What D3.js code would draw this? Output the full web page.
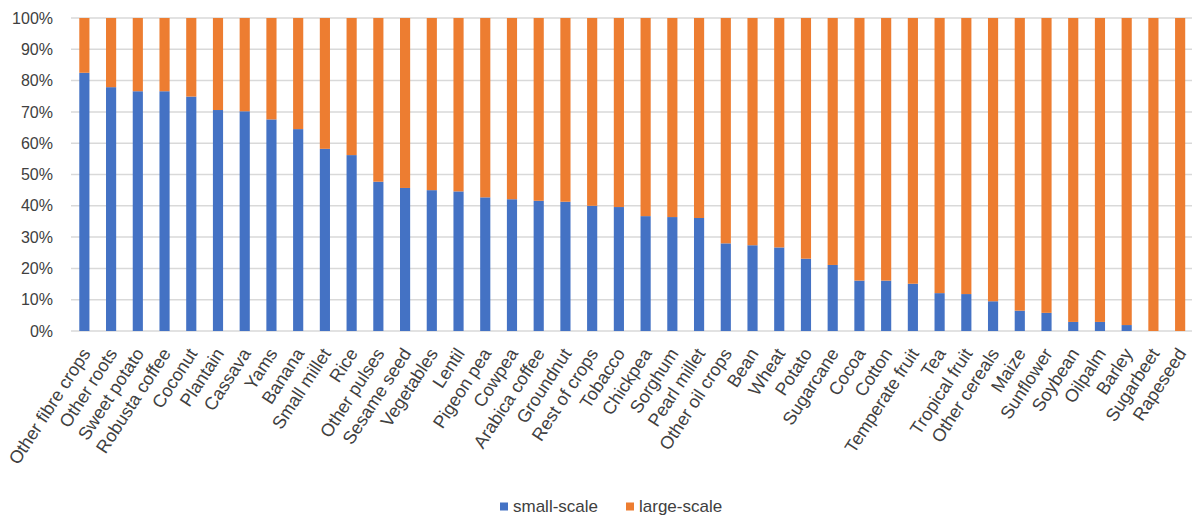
<!DOCTYPE html>
<html>
<head>
<meta charset="utf-8">
<script src="https://cdn.jsdelivr.net/npm/d3@7"></script>
<style>
  html, body { margin: 0; padding: 0; background: #fff; }
  svg { display: block; }
  text { font-family: "Liberation Sans", Arial, sans-serif; fill: #404040; }
</style>
</head>
<body>
<svg id="chart" width="1192" height="517"></svg>
<script>
// Crops, ordered by share of production from small-scale farms
const crops = [
  "Other fibre crops", "Other roots", "Sweet potato", "Robusta coffee", "Coconut",
  "Plantain", "Cassava", "Yams", "Banana", "Small millet", "Rice", "Other pulses",
  "Sesame seed", "Vegetables", "Lentil", "Pigeon pea", "Cowpea", "Arabica coffee",
  "Groundnut", "Rest of crops", "Tobacco", "Chickpea", "Sorghum", "Pearl millet",
  "Other oil crops", "Bean", "Wheat", "Potato", "Sugarcane", "Cocoa", "Cotton",
  "Temperate fruit", "Tea", "Tropical fruit", "Other cereals", "Maize", "Sunflower",
  "Soybean", "Oilpalm", "Barley", "Sugarbeet", "Rapeseed"
];

// Share produced by small-scale farms (%)
const smallScale = [
  82.5, 77.9, 76.6, 76.6, 74.9, 70.6, 70.2, 67.6, 64.5, 58.2, 56.2, 47.7,
  45.7, 45.0, 44.6, 42.7, 42.1, 41.6, 41.3, 40.0, 39.6, 36.7, 36.4, 36.1,
  28.0, 27.4, 26.7, 23.1, 21.1, 16.1, 16.1, 15.1, 12.1, 11.8, 9.5, 6.5,
  5.8, 2.9, 2.9, 1.9, 0, 0
];

// Share produced by large-scale farms (%) — the remainder
const largeScale = smallScale.map(v => +(100 - v).toFixed(1));

const seriesNames = ["small-scale", "large-scale"];
const seriesColors = ["#4472C4", "#ED7D31"];
const yTicks = [0, 10, 20, 30, 40, 50, 60, 70, 80, 90, 100];

const rows = crops.map((c, i) => ({ crop: c, "small-scale": smallScale[i], "large-scale": largeScale[i] }));

const svg = d3.select("#chart");
const margin = { left: 71, top: 18, bottom: 331, right: 1193.5 };

const x = d3.scaleBand()
  .domain(crops)
  .range([margin.left, margin.right])
  .paddingInner(0.62)
  .paddingOuter(0.31);

const y = d3.scaleLinear()
  .domain([0, 100])
  .range([margin.bottom, margin.top]);

// Horizontal gridlines
svg.append("g")
  .selectAll("line")
  .data(yTicks)
  .join("line")
  .attr("x1", margin.left)
  .attr("x2", 1192)
  .attr("y1", d => y(d))
  .attr("y2", d => y(d))
  .attr("stroke", "#d9d9d9")
  .attr("stroke-width", 1.5);

// Y axis labels
const yAxis = d3.axisLeft(y)
  .tickValues(yTicks)
  .tickFormat(d => d + "%")
  .tickSize(0)
  .tickPadding(18);

const yg = svg.append("g")
  .attr("transform", `translate(${margin.left},0)`)
  .call(yAxis);
yg.select(".domain").remove();
yg.selectAll("text")
  .style("font-family", '"Liberation Sans", Arial, sans-serif')
  .style("font-size", "16px")
  .attr("fill", "#404040");

// Stacked bars
const stacked = d3.stack().keys(seriesNames)(rows);

svg.append("g")
  .selectAll("g")
  .data(stacked)
  .join("g")
  .attr("fill", (d, i) => seriesColors[i])
  .selectAll("rect")
  .data(d => d)
  .join("rect")
  .attr("x", d => x(d.data.crop))
  .attr("width", x.bandwidth())
  .attr("y", d => y(d[1]))
  .attr("height", d => Math.max(0, y(d[0]) - y(d[1])));

// Category labels along the bottom
const xAxis = d3.axisBottom(x).tickSize(0).tickPadding(0);
const xg = svg.append("g")
  .attr("transform", `translate(0,${margin.bottom})`)
  .call(xAxis);
xg.select(".domain").remove();
xg.selectAll(".tick text")
  .style("font-family", '"Liberation Sans", Arial, sans-serif')
  .style("font-size", "18px")
  .attr("fill", "#404040")
  .attr("text-anchor", "end")
  .attr("dy", "0.35em")
  .attr("y", 0)
  .attr("transform", "translate(1.5,19) rotate(-57)");

// Legend
const legend = svg.append("g");
const legendX = [500, 626];
seriesNames.forEach((name, i) => {
  legend.append("rect")
    .attr("x", legendX[i])
    .attr("y", 502.5)
    .attr("width", 8)
    .attr("height", 8)
    .attr("fill", seriesColors[i]);
  legend.append("text")
    .attr("x", legendX[i] + 13)
    .attr("y", 512)
    .style("font-size", "17px")
    .text(name);
});
</script>
</body>
</html>
